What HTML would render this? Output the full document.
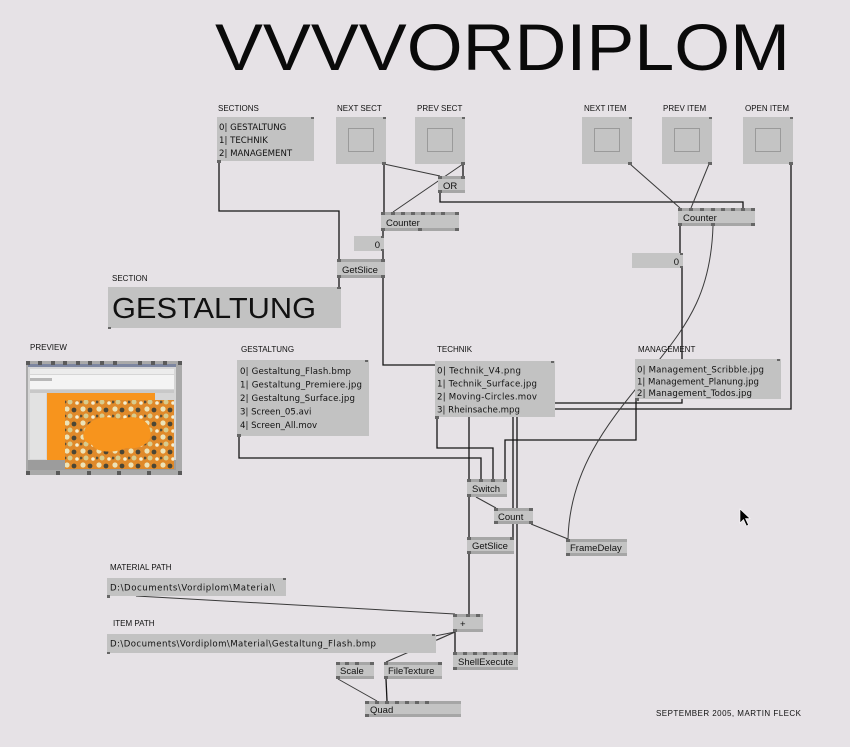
<!DOCTYPE html>
<html><head><meta charset="utf-8"><style>
html,body{margin:0;padding:0;background:#e6e2e6;}
svg{display:block;}
.lb{font-family:"Liberation Sans",sans-serif;font-size:8px;fill:#111;}
.nt{font-family:"Liberation Sans",sans-serif;font-size:9.5px;fill:#111;}
.ls{font-family:"DejaVu Sans","Liberation Sans",sans-serif;font-size:8.6px;fill:#111;}
</style></head><body>
<svg width="850" height="747" viewBox="0 0 850 747" xmlns="http://www.w3.org/2000/svg">
<defs>
<pattern id="fl" x="0" y="0" width="16" height="14" patternUnits="userSpaceOnUse">
<rect width="16" height="14" fill="#e08a2a"/>
<circle cx="3" cy="3" r="2.6" fill="#ece3b8"/>
<circle cx="10" cy="4" r="2.4" fill="#4a4636"/>
<circle cx="6" cy="10" r="2.5" fill="#d8cc8e"/>
<circle cx="13" cy="11" r="1.8" fill="#f4efd2"/>
<circle cx="1" cy="10" r="1.4" fill="#5a5038"/>
</pattern>
</defs>
<rect width="850" height="747" fill="#e6e2e6"/>

<!-- Title -->
<text x="215" y="70" font-family="Liberation Sans, sans-serif" font-size="66" fill="#0a0a0a" textLength="575" lengthAdjust="spacingAndGlyphs">VVVVORDIPLOM</text>

<!-- LINKS -->
<g fill="none" stroke="#151515" stroke-width="1.3">
<polyline points="219,161 219,211 339,211 339,259"/>
<line x1="384" y1="164" x2="384" y2="212"/>
<line x1="463" y1="164" x2="463" y2="176"/>
<polyline points="440,193 440,202 743,202 743,208"/>
<line x1="383" y1="231" x2="383" y2="236"/>
<line x1="383" y1="251" x2="383" y2="259"/>
<line x1="339" y1="278" x2="339" y2="287"/>
<polyline points="383,278 383,365 469,365 469,479"/>
<polyline points="791,164 791,409 517,409 517,652"/>
<line x1="680" y1="226" x2="680" y2="253"/>
<polyline points="682,268 682,403 513,403 513,537"/>
<polyline points="636,399 636,440 505,440 505,479"/>
<polyline points="437,417 437,448 493,448 493,479"/>
<polyline points="239,436 239,458 481,458 481,479"/>
<line x1="469" y1="497" x2="469" y2="537"/>
<line x1="469" y1="554" x2="469" y2="614"/>
<line x1="455" y1="632" x2="455" y2="652"/>
<line x1="386" y1="679" x2="387" y2="701"/>
</g>
<g fill="none" stroke="#3a3a3a" stroke-width="1">
<line x1="384" y1="164" x2="440" y2="176"/>
<line x1="463" y1="164" x2="393" y2="212"/>
<line x1="630" y1="164" x2="680" y2="208"/>
<line x1="709" y1="164" x2="691" y2="208"/>
<path d="M713,226 C711,290 690,322 655,365 C620,410 570,460 568,539"/>
<line x1="476" y1="497" x2="496" y2="508"/>
<line x1="531" y1="524" x2="568" y2="539"/>
<line x1="136" y1="596" x2="455" y2="614"/>
<line x1="455" y1="632" x2="435" y2="636"/>
<line x1="455" y1="632" x2="437" y2="640"/>
<line x1="455" y1="632" x2="386" y2="662"/>
<line x1="338" y1="679" x2="377" y2="701"/>
</g>

<!-- Top labels -->
<text class="lb" x="218" y="111">SECTIONS</text>
<text class="lb" x="337" y="111">NEXT SECT</text>
<text class="lb" x="417" y="111">PREV SECT</text>
<text class="lb" x="584" y="111">NEXT ITEM</text>
<text class="lb" x="663" y="111">PREV ITEM</text>
<text class="lb" x="745" y="111">OPEN ITEM</text>

<!-- SECTIONS list -->
<rect x="217" y="117" width="97" height="44" fill="#c2c2c2"/>
<rect x="311" y="117" width="3" height="2" fill="#666"/>
<rect x="217" y="160" width="4" height="3" fill="#666"/>
<text class="ls" x="219" y="130" font-size="8.4">0| GESTALTUNG</text>
<text class="ls" x="219" y="143" font-size="8.4">1| TECHNIK</text>
<text class="ls" x="219" y="156" font-size="8.4">2| MANAGEMENT</text>

<!-- Buttons -->
<g>
<rect x="336" y="117" width="50" height="47" fill="#c2c2c2"/>
<rect x="348.5" y="128.5" width="25" height="23" fill="#c4c4c4" stroke="#9a9a9a" stroke-width="1"/>
<rect x="383" y="117" width="3" height="2" fill="#666"/>
<rect x="382" y="162" width="4" height="3" fill="#666"/>

<rect x="415" y="117" width="50" height="47" fill="#c2c2c2"/>
<rect x="427.5" y="128.5" width="25" height="23" fill="#c4c4c4" stroke="#9a9a9a" stroke-width="1"/>
<rect x="462" y="117" width="3" height="2" fill="#666"/>
<rect x="461" y="162" width="4" height="3" fill="#666"/>

<rect x="582" y="117" width="50" height="47" fill="#c2c2c2"/>
<rect x="594.5" y="128.5" width="25" height="23" fill="#c4c4c4" stroke="#9a9a9a" stroke-width="1"/>
<rect x="629" y="117" width="3" height="2" fill="#666"/>
<rect x="628" y="162" width="4" height="3" fill="#666"/>

<rect x="662" y="117" width="50" height="47" fill="#c2c2c2"/>
<rect x="674.5" y="128.5" width="25" height="23" fill="#c4c4c4" stroke="#9a9a9a" stroke-width="1"/>
<rect x="709" y="117" width="3" height="2" fill="#666"/>
<rect x="708" y="162" width="4" height="3" fill="#666"/>

<rect x="743" y="117" width="50" height="47" fill="#c2c2c2"/>
<rect x="755.5" y="128.5" width="25" height="23" fill="#c4c4c4" stroke="#9a9a9a" stroke-width="1"/>
<rect x="790" y="117" width="3" height="2" fill="#666"/>
<rect x="789" y="162" width="4" height="3" fill="#666"/>
</g>

<!-- Nodes -->
<g>
<rect x="438" y="176" width="27" height="17" fill="#c4c4c4"/>
<rect x="438" y="176" width="27" height="3" fill="#a6a6a6"/>
<rect x="438" y="190" width="27" height="3" fill="#a6a6a6"/>
<rect x="438" y="176" width="4" height="3" fill="#666"/><rect x="461" y="176" width="4" height="3" fill="#666"/>
<rect x="438" y="190" width="4" height="3" fill="#666"/>
<text class="nt" x="443" y="189">OR</text>

<rect x="381" y="212" width="78" height="19" fill="#c4c4c4"/>
<rect x="381" y="212" width="78" height="3" fill="#a6a6a6"/>
<rect x="381" y="228" width="78" height="3" fill="#a6a6a6"/>
<g fill="#666">
<rect x="381" y="212" width="4" height="3"/><rect x="391" y="212" width="4" height="3"/><rect x="401" y="212" width="4" height="3"/><rect x="411" y="212" width="4" height="3"/><rect x="421" y="212" width="4" height="3"/><rect x="431" y="212" width="4" height="3"/><rect x="441" y="212" width="4" height="3"/><rect x="455" y="212" width="4" height="3"/>
<rect x="381" y="228" width="4" height="3"/><rect x="418" y="228" width="4" height="3"/><rect x="455" y="228" width="4" height="3"/>
</g>
<text class="nt" x="386" y="226">Counter</text>

<rect x="354" y="236" width="30" height="15" fill="#c4c4c4"/>
<rect x="381" y="236" width="3" height="2" fill="#666"/><rect x="381" y="249" width="3" height="2" fill="#666"/>
<text class="nt" x="380" y="248" text-anchor="end">0</text>

<rect x="337" y="259" width="48" height="19" fill="#c4c4c4"/>
<rect x="337" y="259" width="48" height="3" fill="#a6a6a6"/>
<rect x="337" y="275" width="48" height="3" fill="#a6a6a6"/>
<g fill="#666"><rect x="337" y="259" width="4" height="3"/><rect x="381" y="259" width="4" height="3"/><rect x="337" y="275" width="4" height="3"/><rect x="381" y="275" width="4" height="3"/></g>
<text class="nt" x="342" y="273">GetSlice</text>

<rect x="678" y="208" width="77" height="18" fill="#c4c4c4"/>
<rect x="678" y="208" width="77" height="3" fill="#a6a6a6"/>
<rect x="678" y="223" width="77" height="3" fill="#a6a6a6"/>
<g fill="#666">
<rect x="678" y="208" width="4" height="3"/><rect x="689" y="208" width="4" height="3"/><rect x="700" y="208" width="4" height="3"/><rect x="711" y="208" width="4" height="3"/><rect x="721" y="208" width="4" height="3"/><rect x="731" y="208" width="4" height="3"/><rect x="741" y="208" width="4" height="3"/><rect x="751" y="208" width="4" height="3"/>
<rect x="678" y="223" width="4" height="3"/><rect x="711" y="223" width="4" height="3"/><rect x="751" y="223" width="4" height="3"/>
</g>
<text class="nt" x="683" y="221">Counter</text>

<rect x="632" y="253" width="51" height="15" fill="#c4c4c4"/>
<rect x="680" y="253" width="3" height="2" fill="#666"/><rect x="680" y="266" width="3" height="2" fill="#666"/>
<text class="nt" x="679" y="265" text-anchor="end">0</text>
</g>

<!-- SECTION -->
<text class="lb" x="112" y="281">SECTION</text>
<rect x="108" y="287" width="233" height="41" fill="#c2c2c2"/>
<rect x="337" y="287" width="4" height="2" fill="#666"/>
<rect x="108" y="327" width="3" height="2" fill="#666"/>
<text x="112" y="318" font-family="Liberation Sans, sans-serif" font-size="29" fill="#111" textLength="204" lengthAdjust="spacingAndGlyphs">GESTALTUNG</text>

<!-- PREVIEW -->
<text class="lb" x="30" y="350">PREVIEW</text>
<rect x="26" y="361" width="156" height="114" fill="#a9a9a9"/>
<rect x="28" y="364" width="148" height="100" fill="#d6d6d6"/>
<rect x="28" y="364" width="148" height="3" fill="#7d86a0"/>
<rect x="30" y="369" width="144" height="5" fill="#ececec"/>
<rect x="30" y="375" width="144" height="14" fill="#f4f4f4"/>
<rect x="30" y="378" width="22" height="3" fill="#b8b8b8"/>
<rect x="30" y="390" width="144" height="3" fill="#c8c8c8"/>
<rect x="30" y="393" width="16" height="66" fill="#e2e2e2"/>
<rect x="47" y="393" width="108" height="67" fill="#f7941d"/>
<rect x="28" y="460" width="148" height="10" fill="#9c9c9c"/>
<rect x="65" y="400" width="109" height="69" fill="url(#fl)"/>
<path d="M84,432 C88,418 106,414 120,420 C132,414 148,418 150,430 C154,442 140,450 126,448 C112,454 96,452 92,445 C84,442 82,438 84,432 Z" fill="#f7941d"/>
<g fill="#5a5a5a">
<rect x="26" y="361" width="4" height="4"/><rect x="38" y="361" width="4" height="4"/><rect x="51" y="361" width="4" height="4"/><rect x="63" y="361" width="4" height="4"/><rect x="76" y="361" width="4" height="4"/><rect x="88" y="361" width="4" height="4"/><rect x="100" y="361" width="4" height="4"/><rect x="113" y="361" width="4" height="4"/><rect x="138" y="361" width="4" height="4"/><rect x="151" y="361" width="4" height="4"/><rect x="163" y="361" width="4" height="4"/><rect x="178" y="361" width="4" height="4"/>
<rect x="26" y="471" width="4" height="4"/><rect x="56" y="471" width="4" height="4"/><rect x="87" y="471" width="4" height="4"/><rect x="117" y="471" width="4" height="4"/><rect x="147" y="471" width="4" height="4"/><rect x="178" y="471" width="4" height="4"/>
</g>

<!-- GESTALTUNG list -->
<text class="lb" x="241" y="352">GESTALTUNG</text>
<rect x="237" y="360" width="132" height="76" fill="#c2c2c2"/>
<rect x="365" y="360" width="3" height="2" fill="#666"/>
<rect x="237" y="434" width="4" height="3" fill="#666"/>
<text class="ls" x="240" y="374" textLength="111">0| Gestaltung_Flash.bmp</text>
<text class="ls" x="240" y="387.5" textLength="122">1| Gestaltung_Premiere.jpg</text>
<text class="ls" x="240" y="401" textLength="115">2| Gestaltung_Surface.jpg</text>
<text class="ls" x="240" y="414.5">3| Screen_05.avi</text>
<text class="ls" x="240" y="428">4| Screen_All.mov</text>

<!-- TECHNIK list -->
<text class="lb" x="437" y="352">TECHNIK</text>
<rect x="435" y="361" width="120" height="56" fill="#c2c2c2"/>
<rect x="551" y="361" width="3" height="2" fill="#666"/>
<rect x="435" y="416" width="4" height="3" fill="#666"/>
<text class="ls" x="437" y="373.5" textLength="84">0| Technik_V4.png</text>
<text class="ls" x="437" y="386.5" textLength="100">1| Technik_Surface.jpg</text>
<text class="ls" x="437" y="399.5" textLength="100">2| Moving-Circles.mov</text>
<text class="ls" x="437" y="412.5" textLength="83">3| Rheinsache.mpg</text>

<!-- MANAGEMENT list -->
<text class="lb" x="638" y="352">MANAGEMENT</text>
<rect x="635" y="359" width="146" height="40" fill="#c2c2c2"/>
<rect x="777" y="359" width="3" height="2" fill="#666"/>
<rect x="635" y="398" width="4" height="3" fill="#666"/>
<text class="ls" x="637" y="372.5" textLength="127">0| Management_Scribble.jpg</text>
<text class="ls" x="637" y="384.5" textLength="122">1| Management_Planung.jpg</text>
<text class="ls" x="637" y="396" textLength="115">2| Management_Todos.jpg</text>

<!-- Lower nodes -->
<g>
<rect x="467" y="479" width="40" height="18" fill="#c4c4c4"/>
<rect x="467" y="479" width="40" height="3" fill="#a6a6a6"/>
<rect x="467" y="494" width="40" height="3" fill="#a6a6a6"/>
<g fill="#666"><rect x="467" y="479" width="4" height="3"/><rect x="479" y="479" width="4" height="3"/><rect x="491" y="479" width="4" height="3"/><rect x="503" y="479" width="4" height="3"/><rect x="467" y="494" width="4" height="3"/></g>
<text class="nt" x="472" y="492">Switch</text>

<rect x="494" y="508" width="39" height="16" fill="#c4c4c4"/>
<rect x="494" y="508" width="39" height="3" fill="#a6a6a6"/>
<rect x="494" y="521" width="39" height="3" fill="#a6a6a6"/>
<g fill="#666"><rect x="494" y="508" width="4" height="3"/><rect x="529" y="508" width="4" height="3"/><rect x="494" y="521" width="4" height="3"/><rect x="529" y="521" width="4" height="3"/></g>
<text class="nt" x="498" y="520">Count</text>

<rect x="566" y="539" width="61" height="17" fill="#c4c4c4"/>
<rect x="566" y="539" width="61" height="3" fill="#a6a6a6"/>
<rect x="566" y="553" width="61" height="3" fill="#a6a6a6"/>
<g fill="#666"><rect x="566" y="539" width="4" height="3"/><rect x="566" y="553" width="4" height="3"/></g>
<text class="nt" x="570" y="551">FrameDelay</text>

<rect x="467" y="537" width="47" height="17" fill="#c4c4c4"/>
<rect x="467" y="537" width="47" height="3" fill="#a6a6a6"/>
<rect x="467" y="551" width="47" height="3" fill="#a6a6a6"/>
<g fill="#666"><rect x="467" y="537" width="4" height="3"/><rect x="510" y="537" width="4" height="3"/><rect x="467" y="551" width="4" height="3"/></g>
<text class="nt" x="472" y="549">GetSlice</text>

<rect x="453" y="614" width="30" height="18" fill="#c4c4c4"/>
<rect x="453" y="614" width="30" height="3" fill="#a6a6a6"/>
<rect x="453" y="629" width="30" height="3" fill="#a6a6a6"/>
<g fill="#666"><rect x="453" y="614" width="4" height="3"/><rect x="466" y="614" width="4" height="3"/><rect x="476" y="614" width="4" height="3"/><rect x="453" y="629" width="4" height="3"/></g>
<text class="nt" x="460" y="627">+</text>

<rect x="453" y="652" width="65" height="18" fill="#c4c4c4"/>
<rect x="453" y="652" width="65" height="3" fill="#a6a6a6"/>
<rect x="453" y="667" width="65" height="3" fill="#a6a6a6"/>
<g fill="#666"><rect x="453" y="652" width="4" height="3"/><rect x="463" y="652" width="4" height="3"/><rect x="473" y="652" width="4" height="3"/><rect x="483" y="652" width="4" height="3"/><rect x="493" y="652" width="4" height="3"/><rect x="503" y="652" width="4" height="3"/><rect x="514" y="652" width="4" height="3"/><rect x="453" y="667" width="4" height="3"/></g>
<text class="nt" x="458" y="665">ShellExecute</text>

<rect x="336" y="662" width="38" height="17" fill="#c4c4c4"/>
<rect x="336" y="662" width="38" height="3" fill="#a6a6a6"/>
<rect x="336" y="676" width="38" height="3" fill="#a6a6a6"/>
<g fill="#666"><rect x="336" y="662" width="4" height="3"/><rect x="345" y="662" width="4" height="3"/><rect x="355" y="662" width="4" height="3"/><rect x="370" y="662" width="4" height="3"/><rect x="336" y="676" width="4" height="3"/></g>
<text class="nt" x="340" y="674">Scale</text>

<rect x="384" y="662" width="58" height="17" fill="#c4c4c4"/>
<rect x="384" y="662" width="58" height="3" fill="#a6a6a6"/>
<rect x="384" y="676" width="58" height="3" fill="#a6a6a6"/>
<g fill="#666"><rect x="384" y="662" width="4" height="3"/><rect x="438" y="662" width="4" height="3"/><rect x="384" y="676" width="4" height="3"/></g>
<text class="nt" x="388" y="674">FileTexture</text>

<rect x="365" y="701" width="96" height="16" fill="#c4c4c4"/>
<rect x="365" y="701" width="96" height="3" fill="#a6a6a6"/>
<rect x="365" y="714" width="96" height="3" fill="#a6a6a6"/>
<g fill="#666"><rect x="365" y="701" width="4" height="3"/><rect x="375" y="701" width="4" height="3"/><rect x="385" y="701" width="4" height="3"/><rect x="395" y="701" width="4" height="3"/><rect x="405" y="701" width="4" height="3"/><rect x="415" y="701" width="4" height="3"/><rect x="425" y="701" width="4" height="3"/><rect x="365" y="714" width="4" height="3"/></g>
<text class="nt" x="370" y="713">Quad</text>
</g>

<!-- Paths -->
<text class="lb" x="110" y="570">MATERIAL PATH</text>
<rect x="107" y="578" width="179" height="18" fill="#c2c2c2"/>
<rect x="283" y="578" width="3" height="2" fill="#666"/>
<rect x="107" y="595" width="3" height="3" fill="#666"/>
<text class="ls" x="110" y="590.5" textLength="165">D:\Documents\Vordiplom\Material\</text>

<text class="lb" x="113" y="626">ITEM PATH</text>
<rect x="107" y="634" width="329" height="19" fill="#c2c2c2"/>
<rect x="432" y="634" width="3" height="2" fill="#666"/>
<rect x="107" y="652" width="3" height="2" fill="#666"/>
<text class="ls" x="110" y="646.5" textLength="266">D:\Documents\Vordiplom\Material\Gestaltung_Flash.bmp</text>

<!-- Footer -->
<text class="lb" x="656" y="716" textLength="145">SEPTEMBER 2005, MARTIN FLECK</text>

<!-- Cursor -->
<polygon points="740,509 740,523 743.5,519.5 746.5,526 748.5,525 745.5,518.5 750,518.5" fill="#000" stroke="#fff" stroke-width="0.6"/>
</svg>
</body></html>
